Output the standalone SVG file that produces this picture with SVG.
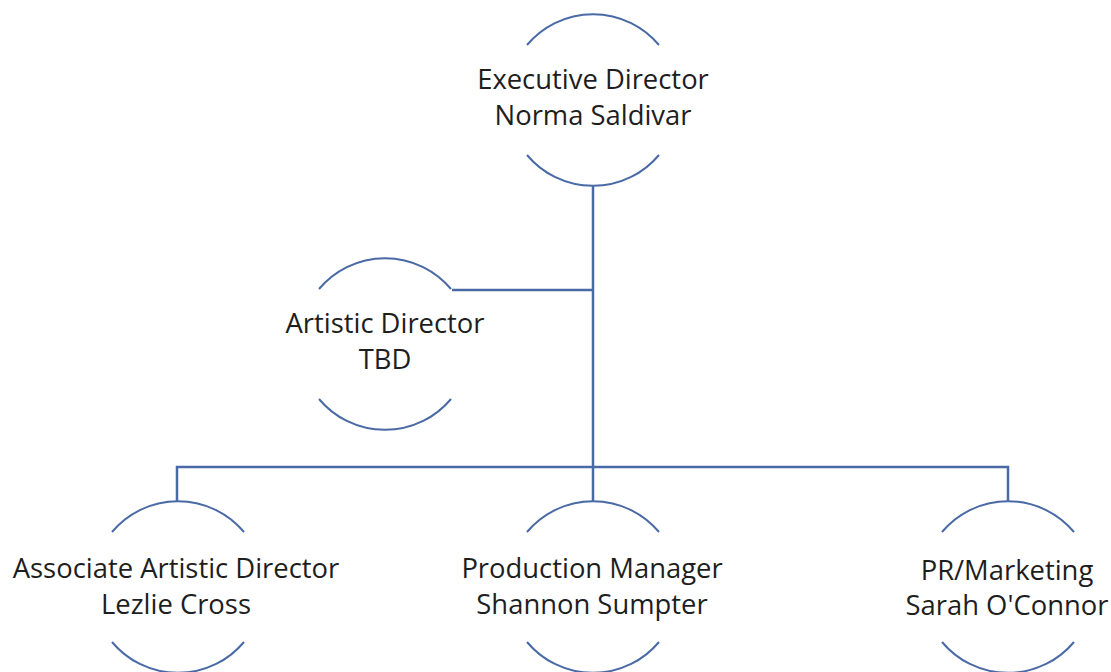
<svg xmlns="http://www.w3.org/2000/svg" width="1111" height="672" viewBox="0 0 1111 672">
  <style>
    .arc { fill: none; stroke: #4a6aa6; stroke-width: 2; }
    .link { fill: none; stroke: #4a6aa6; stroke-width: 2.5; }
    .label { font-family: "Open Sans", Lato, sans-serif; font-size: 27.4px; fill: #1e1e1e; text-anchor: middle; font-variant-ligatures: none; }
  </style>
  <rect width="1111" height="672" fill="#ffffff"/>

  <!-- connectors -->
  <g id="connectors">
    <path class="link" d="M593 186 V467"/>
    <path class="link" d="M452 290 H593"/>
    <path class="link" d="M177 502 V467 H1008 V502"/>
    <path class="link" d="M593 467 V502"/>
  </g>

  <!-- nodes: an open circle (top and bottom arcs) with two text lines -->
  <g id="executive-director">
    <path class="arc" d="M527 45 A86 86 0 0 1 659 45"/>
    <path class="arc" d="M527 155 A86 86 0 0 0 659 155"/>
    <text class="label" x="593" y="89">Executive Director</text>
    <text class="label" x="593" y="125">Norma Saldivar</text>
  </g>

  <g id="artistic-director">
    <path class="arc" d="M319 289 A86 86 0 0 1 451 289"/>
    <path class="arc" d="M319 399 A86 86 0 0 0 451 399"/>
    <text class="label" x="385" y="333">Artistic Director</text>
    <text class="label" x="385" y="369">TBD</text>
  </g>

  <g id="associate-artistic-director">
    <path class="arc" d="M112 532 A86 86 0 0 1 244 532"/>
    <path class="arc" d="M112 642 A86 86 0 0 0 244 642"/>
    <text class="label" x="176" y="578">Associate Artistic Director</text>
    <text class="label" x="176" y="614">Lezlie Cross</text>
  </g>

  <g id="production-manager">
    <path class="arc" d="M527 532 A86 86 0 0 1 659 532"/>
    <path class="arc" d="M527 642 A86 86 0 0 0 659 642"/>
    <text class="label" x="592" y="578">Production Manager</text>
    <text class="label" x="592" y="614">Shannon Sumpter</text>
  </g>

  <g id="pr-marketing">
    <path class="arc" d="M942 532 A86 86 0 0 1 1074 532"/>
    <path class="arc" d="M942 642 A86 86 0 0 0 1074 642"/>
    <text class="label" x="1007" y="580">PR/Marketing</text>
    <text class="label" x="1007" y="615">Sarah O'Connor</text>
  </g>
</svg>
